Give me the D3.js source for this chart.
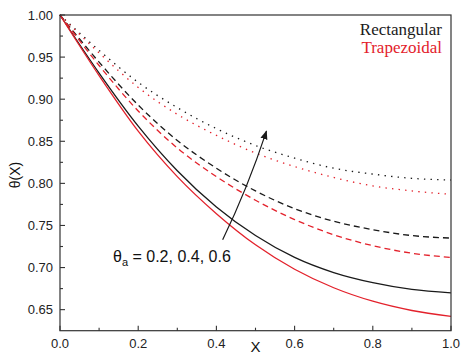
<!DOCTYPE html>
<html>
<head>
<meta charset="utf-8">
<script src="https://cdn.jsdelivr.net/npm/d3@7"></script>
<style>
  body { margin: 0; background: #fff; }
  svg { display: block; font-family: Arial, "Liberation Sans", sans-serif; }
</style>
</head>
<body>
<svg id="chart" width="461" height="358"></svg>
<script>
// values
const xs = [0.0, 0.1, 0.2, 0.3, 0.4, 0.5, 0.6, 0.7, 0.8, 0.9, 1.0];
const rect02 = [1.000, 0.931, 0.868, 0.815, 0.772, 0.738, 0.712, 0.694, 0.682, 0.674, 0.670];
const trap02 = [1.000, 0.928, 0.862, 0.808, 0.764, 0.727, 0.698, 0.676, 0.660, 0.649, 0.642];
const rect04 = [1.000, 0.944, 0.893, 0.851, 0.818, 0.791, 0.770, 0.755, 0.745, 0.738, 0.735];
const trap04 = [1.000, 0.940, 0.886, 0.842, 0.808, 0.780, 0.757, 0.739, 0.726, 0.717, 0.712];
const rect06 = [1.000, 0.958, 0.920, 0.890, 0.865, 0.845, 0.830, 0.818, 0.811, 0.806, 0.804];
const trap06 = [1.000, 0.955, 0.914, 0.882, 0.857, 0.836, 0.820, 0.807, 0.797, 0.791, 0.787];

const xTicks = [0.0, 0.2, 0.4, 0.6, 0.8, 1.0];
const yTicks = [0.65, 0.70, 0.75, 0.80, 0.85, 0.90, 0.95, 1.00];
const legendLabels = ['Rectangular', 'Trapezoidal'];
const annotation = { start: [0.416, 0.733], end: [0.528, 0.862] };

const RED = '#e3212b';
const BLACK = '#1a1a1a';
const AXIS = '#333';

const margin = { top: 15, right: 10, bottom: 27.3, left: 60 };
const W = 461, H = 358;
const width = W - margin.left - margin.right;
const height = H - margin.top - margin.bottom;

const svg = d3.select('#chart');
const g = svg.append('g').attr('transform', `translate(${margin.left},${margin.top})`);

const x = d3.scaleLinear().domain([0, 1]).range([0, width]);
const y = d3.scaleLinear().domain([0.625, 1.0]).range([height, 0]);

// series
const series = [
  { v: rect02, color: BLACK, dash: null },
  { v: trap02, color: RED, dash: null },
  { v: rect04, color: BLACK, dash: '6,4' },
  { v: trap04, color: RED, dash: '6,4' },
  { v: rect06, color: BLACK, dash: '1.4,5.2' },
  { v: trap06, color: RED, dash: '1.4,5.2' },
];

const line = d3.line()
  .x(d => x(d[0]))
  .y(d => y(d[1]))
  .curve(d3.curveMonotoneX);

g.selectAll('path.series')
  .data(series)
  .join('path')
    .attr('class', 'series')
    .attr('d', s => line(xs.map((xv, i) => [xv, s.v[i]])))
    .attr('fill', 'none')
    .attr('stroke', s => s.color)
    .attr('stroke-width', 1.3)
    .attr('stroke-dasharray', s => s.dash);

// frame
g.append('rect')
  .attr('width', width).attr('height', height)
  .attr('fill', 'none').attr('stroke', AXIS).attr('stroke-width', 1.2);

// ticks, pointing inward
const xMinor = d3.range(0.1, 1.0, 0.2);
const yMinor = [0.675, 0.725, 0.775, 0.825, 0.875, 0.925, 0.975];

g.selectAll('line.xt')
  .data(xTicks.map(v => [v, 5]).concat(xMinor.map(v => [v, 3])))
  .join('line')
    .attr('x1', d => x(d[0])).attr('x2', d => x(d[0]))
    .attr('y1', height).attr('y2', d => height - d[1])
    .attr('stroke', AXIS).attr('stroke-width', 1.1);

g.selectAll('line.yt')
  .data(yTicks.map(v => [v, 5]).concat(yMinor.map(v => [v, 3])))
  .join('line')
    .attr('y1', d => y(d[0])).attr('y2', d => y(d[0]))
    .attr('x1', 0).attr('x2', d => d[1])
    .attr('stroke', AXIS).attr('stroke-width', 1.1);

g.selectAll('text.xl')
  .data(xTicks)
  .join('text')
    .attr('x', d => x(d)).attr('y', height + 17.5)
    .attr('text-anchor', 'middle')
    .attr('font-size', 13).attr('fill', '#222')
    .text(d => d3.format('.1f')(d));

g.selectAll('text.yl')
  .data(yTicks)
  .join('text')
    .attr('x', -7).attr('y', d => y(d) + 4.5)
    .attr('text-anchor', 'end')
    .attr('font-size', 13).attr('fill', '#222')
    .text(d => d3.format('.2f')(d));

// axis titles
svg.append('text')
  .attr('x', margin.left + x(0.5)).attr('y', 352)
  .attr('text-anchor', 'middle')
  .attr('font-size', 15).attr('fill', '#111')
  .text('X');

svg.append('text')
  .attr('transform', `translate(20,${margin.top + y(0.81)}) rotate(-90)`)
  .attr('text-anchor', 'middle')
  .attr('font-size', 14).attr('fill', '#111')
  .text('θ(X)');

// legend
svg.selectAll('text.leg')
  .data(legendLabels)
  .join('text')
    .attr('x', 442).attr('y', (d, i) => 35 + i * 18)
    .attr('text-anchor', 'end')
    .attr('font-family', '"Liberation Serif", "Times New Roman", serif')
    .attr('font-size', 17)
    .attr('fill', (d, i) => i === 0 ? BLACK : RED)
    .text(d => d);

// arrow
svg.append('defs').append('marker')
  .attr('id', 'arrowhead')
  .attr('viewBox', '0 0 10 10')
  .attr('refX', 9).attr('refY', 5)
  .attr('markerWidth', 9).attr('markerHeight', 9)
  .attr('markerUnits', 'userSpaceOnUse')
  .attr('orient', 'auto')
  .append('path').attr('d', 'M0,1 L10,5 L0,9 Z').attr('fill', BLACK);

const [ax0, ay0] = [x(annotation.start[0]), y(annotation.start[1])];
const [ax1, ay1] = [x(annotation.end[0]), y(annotation.end[1])];
g.append('path')
  .attr('d', `M${ax0},${ay0} Q${(ax0 + ax1) / 2 + 3},${(ay0 + ay1) / 2 + 3} ${ax1},${ay1}`)
  .attr('fill', 'none').attr('stroke', BLACK).attr('stroke-width', 1.2)
  .attr('marker-end', 'url(#arrowhead)');

// annotation label
const ann = svg.append('text')
  .attr('x', 113).attr('y', 261.5)
  .attr('font-size', 16).attr('fill', '#111');
ann.append('tspan').text('θ');
ann.append('tspan').attr('font-size', 11).attr('dy', 4).text('a');
ann.append('tspan').attr('dy', -4).text(' = 0.2, 0.4, 0.6');
</script>
</body>
</html>
